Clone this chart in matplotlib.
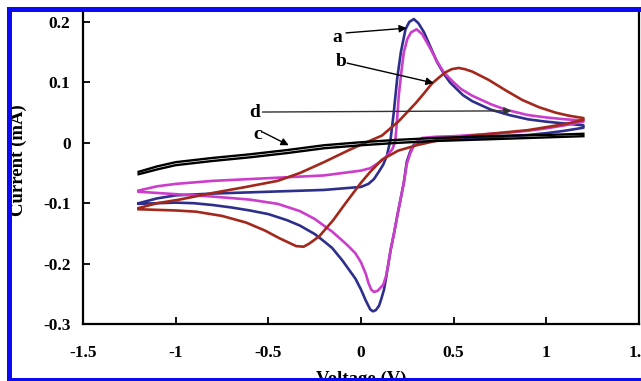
import matplotlib
matplotlib.use("Agg")
import matplotlib.pyplot as plt
from matplotlib.patches import Rectangle

plt.rcParams['font.family'] = ['Liberation Serif', 'DejaVu Serif']
plt.rcParams['font.weight'] = 'bold'
plt.rcParams['axes.unicode_minus'] = False

# curve a (blue): forward scan then reverse scan
a_x = [-1.2, -1.1, -1.0, -0.8, -0.6, -0.4, -0.2, 0.0, 0.04, 0.07, 0.1, 0.12, 0.14, 0.16, 0.177,
       0.195, 0.215, 0.24, 0.26, 0.285, 0.31, 0.34, 0.37, 0.41, 0.45, 0.48, 0.55, 0.6, 0.7, 0.8,
       0.9, 1.0, 1.1, 1.2,
       1.2, 1.1, 1.0, 0.9, 0.8, 0.7, 0.6, 0.5, 0.4, 0.32, 0.285, 0.265, 0.247, 0.231, 0.213,
       0.195, 0.178, 0.16, 0.145, 0.134, 0.124, 0.11, 0.097, 0.08, 0.065, 0.05, 0.027, 0.0,
       -0.03, -0.065, -0.1, -0.156, -0.2, -0.25, -0.33, -0.4, -0.5, -0.6, -0.7, -0.8, -0.9,
       -1.0, -1.1, -1.2]
a_y = [-0.100, -0.092, -0.087, -0.084, -0.082, -0.080, -0.078, -0.073, -0.068, -0.060, -0.046,
       -0.036, -0.021, 0.007, 0.051, 0.106, 0.150, 0.188, 0.200, 0.205, 0.198, 0.183, 0.162,
       0.134, 0.113, 0.100, 0.079, 0.069, 0.055, 0.046, 0.039, 0.035, 0.032, 0.029,
       0.025, 0.020, 0.016, 0.013, 0.011, 0.009, 0.008, 0.006, 0.004, 0.001, -0.003, -0.015,
       -0.031, -0.066, -0.094, -0.122, -0.150, -0.177, -0.205, -0.226, -0.243, -0.258, -0.270,
       -0.277, -0.279, -0.276, -0.262, -0.243, -0.225, -0.210, -0.195, -0.174, -0.163, -0.151,
       -0.137, -0.128, -0.118, -0.112, -0.107, -0.103, -0.100, -0.099, -0.100, -0.101]

# curve b (magenta)
b_x = [-1.2, -1.1, -1.0, -0.8, -0.6, -0.4, -0.2, 0.0, 0.05, 0.1, 0.14, 0.17, 0.185, 0.195,
       0.204, 0.218, 0.231, 0.25, 0.27, 0.3, 0.33, 0.376, 0.41, 0.446, 0.5, 0.54, 0.6, 0.7,
       0.78, 0.9, 1.0, 1.1, 1.2,
       1.2, 1.1, 1.0, 0.9, 0.8, 0.7, 0.6, 0.5, 0.4, 0.33, 0.3, 0.285, 0.265, 0.247, 0.231,
       0.213, 0.195, 0.178, 0.16, 0.145, 0.134, 0.12, 0.09, 0.07, 0.055, 0.04, 0.027, 0.0,
       -0.03, -0.065, -0.1, -0.156, -0.25, -0.33, -0.45, -0.6, -0.8, -1.0, -1.2]
b_y = [-0.079, -0.072, -0.068, -0.063, -0.060, -0.057, -0.054, -0.046, -0.042, -0.032, -0.022,
       -0.010, 0.003, 0.040, 0.079, 0.118, 0.150, 0.172, 0.183, 0.188, 0.180, 0.155, 0.135,
       0.117, 0.100, 0.089, 0.078, 0.064, 0.055, 0.046, 0.042, 0.039, 0.037,
       0.035, 0.029, 0.024, 0.020, 0.017, 0.015, 0.013, 0.011, 0.010, 0.008, 0.002, -0.005,
       -0.018, -0.035, -0.066, -0.094, -0.122, -0.150, -0.177, -0.205, -0.222, -0.235,
       -0.245, -0.247, -0.243, -0.232, -0.218, -0.198, -0.183, -0.172, -0.162, -0.147,
       -0.126, -0.113, -0.101, -0.094, -0.089, -0.085, -0.081]

# curve d (dark red)
d_x = [-1.2, -1.1, -0.98, -0.8, -0.62, -0.45, -0.33, -0.2, -0.065, 0.0, 0.113, 0.204, 0.296,
       0.34, 0.382, 0.42, 0.457, 0.49, 0.527, 0.56, 0.6, 0.69, 0.78, 0.87, 0.96, 1.05, 1.12, 1.2,
       1.2, 1.1, 1.0, 0.9, 0.8, 0.7, 0.6, 0.5, 0.4, 0.3, 0.2, 0.113, 0.05, 0.0, -0.081, -0.15,
       -0.226, -0.28, -0.31, -0.35, -0.44, -0.52, -0.62, -0.75, -0.89, -1.0, -1.1, -1.2]
d_y = [-0.108, -0.100, -0.094, -0.083, -0.073, -0.063, -0.050, -0.032, -0.012, -0.003, 0.012,
       0.036, 0.066, 0.082, 0.098, 0.108, 0.117, 0.122, 0.124, 0.122, 0.118, 0.104, 0.087,
       0.071, 0.059, 0.050, 0.045, 0.041,
       0.038, 0.031, 0.026, 0.021, 0.018, 0.015, 0.012, 0.008, 0.003, -0.004, -0.013, -0.028,
       -0.048, -0.066, -0.099, -0.128, -0.155, -0.167, -0.172, -0.171, -0.158, -0.145, -0.132,
       -0.121, -0.114, -0.112, -0.111, -0.110]

# curve c (black), two close scans
c_x = [-1.2, -1.1, -1.0, -0.8, -0.6, -0.4, -0.2, 0.0, 0.2, 0.4, 0.6, 0.8, 1.0, 1.2]
c_fwd = [-0.052, -0.044, -0.037, -0.030, -0.024, -0.017, -0.009, -0.004, 0.000, 0.003,
         0.005, 0.007, 0.009, 0.011]
c_rev = [-0.048, -0.039, -0.032, -0.025, -0.019, -0.012, -0.004, 0.001, 0.005, 0.008,
         0.010, 0.012, 0.013, 0.015]

xticks = [-1.5, -1, -0.5, 0, 0.5, 1, 1.5]
xtick_labels = ['-1.5', '-1', '-0.5', '0', '0.5', '1', '1.5']
yticks = [-0.3, -0.2, -0.1, 0, 0.1, 0.2]
ytick_labels = ['-0.3', '-0.2', '-0.1', '0', '0.1', '0.2']

fig = plt.figure(figsize=(6.41, 3.81), dpi=100)
ax = fig.add_axes([0.1295, 0.1496, 0.8674, 0.8163])

ax.plot(a_x, a_y, color='#2e2f8c', lw=1.9)
ax.plot(b_x, b_y, color='#cc3dcc', lw=1.9)
ax.plot(d_x, d_y, color='#a3281c', lw=1.9)
ax.plot(c_x, c_fwd, color='black', lw=1.7)
ax.plot(c_x, c_rev, color='black', lw=1.7)

ax.set_xlim(-1.5, 1.5)
ax.set_ylim(-0.3, 0.215)
ax.set_xticks(xticks)
ax.set_xticklabels(xtick_labels)
ax.set_yticks(yticks)
ax.set_yticklabels(ytick_labels)
ax.tick_params(direction='in', length=5, width=1.3, labelsize=12.5)
ax.tick_params(axis='x', pad=15)
ax.tick_params(axis='y', pad=9)
for s in ['left', 'bottom', 'right']:
    ax.spines[s].set_linewidth(1.6)
ax.spines['top'].set_visible(False)

# labels with arrows
arrow = dict(arrowstyle='-|>', color='black', lw=1.0, mutation_scale=11, shrinkA=0, shrinkB=0)
ax.annotate('', xy=(0.247, 0.19), xytext=(-0.081, 0.182), arrowprops=arrow)
ax.annotate('', xy=(0.392, 0.099), xytext=(-0.075, 0.132), arrowprops=arrow)
ax.annotate('', xy=(0.812, 0.053), xytext=(-0.532, 0.051),
            arrowprops=dict(arrowstyle='-|>', color='#333333', lw=1.0, mutation_scale=11,
                            shrinkA=0, shrinkB=0))
ax.annotate('', xy=(-0.39, -0.004), xytext=(-0.532, 0.018), arrowprops=arrow)
for lab, tx, ty in [('a', -0.129, 0.175), ('b', -0.108, 0.134), ('d', -0.575, 0.05),
                    ('c', -0.56, 0.013)]:
    ax.text(tx, ty, lab, fontsize=14, ha='center', va='center')

fig.text(18 / 641, 1 - 160 / 381, 'Current (mA)', rotation=90, fontsize=13.5,
         ha='center', va='center')
fig.text(361 / 641, 1 - 371 / 381, 'Voltage (V)', fontsize=13.5, ha='center', va='top')

# blue frame around the picture
blue = '#0a0af5'
W, H = 641.0, 381.0
fig.add_artist(Rectangle((7 / W, 0), 5 / W, 1 - 7 / H, transform=fig.transFigure,
                         facecolor=blue, lw=0, zorder=10))
fig.add_artist(Rectangle((7 / W, 1 - 12 / H), 1, 5 / H, transform=fig.transFigure,
                         facecolor=blue, lw=0, zorder=10))
fig.add_artist(Rectangle((7 / W, 0), 1, 3 / H, transform=fig.transFigure,
                         facecolor=blue, lw=0, zorder=10))

fig.savefig('out.png', dpi=100)
